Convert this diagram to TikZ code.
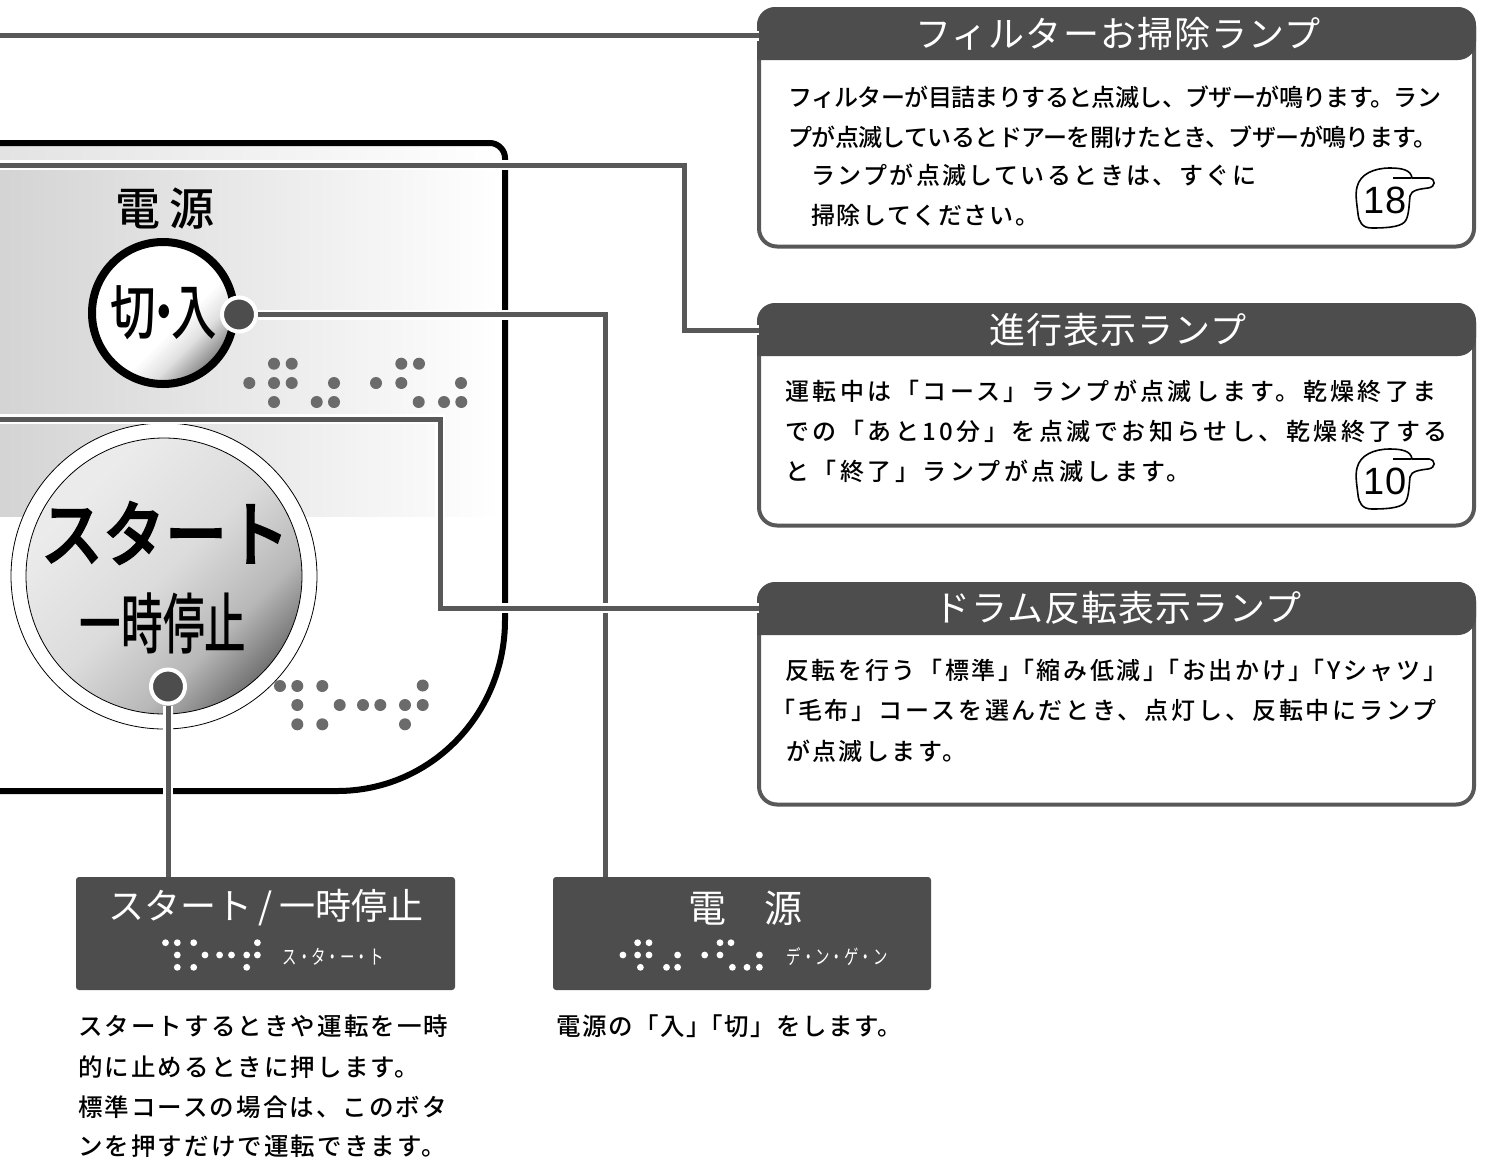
\documentclass[tikz,border=0pt]{standalone}
\usepackage{fontspec}
\usepackage{graphicx}
\setmainfont{Noto Sans CJK JP}
\newfontfamily\jpmed{Noto Sans CJK JP Medium}
\newfontfamily\jpfat[FakeBold=2.2]{Noto Sans CJK JP Medium}
\newfontfamily\latinf{Liberation Sans}
\definecolor{linec}{HTML}{585858}
\definecolor{boxc}{HTML}{4D4D4D}
\definecolor{brl}{HTML}{6B6B6B}
\pgfdeclareverticalshading{btnpower}{100bp}{color(0bp)=(black!85);color(15bp)=(black!80);color(26bp)=(black!50);color(36bp)=(black!12);color(44bp)=(white);color(100bp)=(white)}
\pgfdeclareverticalshading{btnstart}{100bp}{color(0bp)=(black!85);color(15bp)=(black!80);color(25bp)=(black!55);color(35bp)=(black!28);color(50bp)=(black!14);color(70bp)=(black!8);color(100bp)=(black!6)}
\newcommand\Ln[6]{\node[anchor=west,inner sep=0pt] (#1) at (#2,#3) {\fontsize{#4}{#4}\selectfont\jpmed\addfontfeature{LetterSpace=#5}#6};}
\newcommand\Hand[2]{%
  \draw[line width=1.6pt,fill=white] (1412,178) -- (1429,178) .. controls (1436,179) and (1436,187) .. (1428,188)
    .. controls (1420,189) and (1411,190) .. (1410,196) .. controls (1409,205) and (1409,214) .. (1406,220)
    .. controls (1403,226) and (1392,228) .. (1372,228) .. controls (1362,228) and (1359,222) .. (1358,214)
    .. controls (1357,205) and (1355,195) .. (1357,187) .. controls (1360,174) and (1374,168) .. (1390,168)
    .. controls (1402,168) and (1411,170) .. (1412,178) -- cycle;
  \node[inner sep=0pt] (#1) at (1385,200) {\latinf\fontsize{38}{38}\selectfont #2};
  \draw[line width=2.5pt] (1393,178) -- (1411,178);}
\tikzset{
 halo/.style={draw=white,double=linec,line width=2.5pt,double distance=5pt},
 title/.style={inner sep=0pt,text=white,minimum width=717pt,minimum height=50pt},
 pin/.style={circle,fill=boxc,draw=white,line width=4pt,minimum size=34pt,inner sep=0pt},
 card/.style={fill=white,draw=linec,line width=4pt,rounded corners=18pt},
 head/.style={fill=boxc},
 label/.style={fill=boxc,rounded corners=3pt}
}
\begin{document}
\begin{tikzpicture}[x=1pt,y=-1pt]
\useasboundingbox (0,0) rectangle (1487,1160);
% panel gradient
\shade[left color=black!17,right color=white] (0,150) rectangle (500,516);
\shade[left color=black!11,right color=white] (0,146) rectangle (500,160);
% panel outline
\draw[line width=6pt] (0,143) -- (490,143) .. controls (498,143) and (505,150) .. (505,158)
  -- (505,620) .. controls (505,714) and (431,791) .. (337,791) -- (0,791);
% power button
\fill[white] (163,313) circle[radius=74pt];
\shade[shading=btnpower,shading angle=45] (163,313) circle[radius=74pt];
\draw[line width=8pt] (163,313) circle[radius=71pt];
\node[inner sep=0pt] (pwrtitle) at (165,209) {\fontsize{45}{45}\selectfont\jpmed 電\kern9pt 源};
\node[inner sep=0pt] (pwrtext) at (164,313) {\fontsize{60}{60}\selectfont\jpmed\scalebox{.76}[1]{切\kern-.33em・\kern-.33em入}};
% start button
\fill[white,draw=black,line width=.8pt] (164,576) circle[radius=153pt];
\shade[shading=btnstart,shading angle=45,draw=black,line width=.8pt] (164,576) circle[radius=138pt];
\node[inner sep=0pt] (sttext) at (165,533) {\fontsize{64}{64}\selectfont\jpfat\scalebox{.97}[1.12]{スタート}};
\node[inner sep=0pt] (sttext2) at (163,623) {\fontsize{66}{66}\selectfont\jpmed\scalebox{.63}[1]{一時停止}};
% braille on panel
\foreach \x/\y in {274/363.7,291.7/363.7,401.3/363.7,419/363.7,
  249.3/383,274/383,291.7/383,334/383,376/383,401.3/383,461/383,
  274/402,316.7/402,334/402,418.7/402,444/402,461.3/402,
  280/686,297.3/686,322.3/686,422.7/685.5,
  297.3/705,339.7/705,363/705,380.3/705,405/705,422.7/705,
  297.3/724.3,322.3/724.3,405/724.3}
  \fill[brl] (\x,\y) circle[radius=6pt];
% cards
\draw[card] (759,9) rectangle (1474,246.5);
\draw[card] (759,305) rectangle (1474,525.5);
\draw[card] (759,584) rectangle (1474,804.5);
\fill[head,rounded corners=18pt] (757,60) -- (757,7) -- (1476,7) -- (1476,60) [sharp corners] -- cycle;
\fill[head,rounded corners=18pt] (757,356) -- (757,303) -- (1476,303) -- (1476,356) [sharp corners] -- cycle;
\fill[head,rounded corners=18pt] (757,635) -- (757,582) -- (1476,582) -- (1476,635) [sharp corners] -- cycle;
\node[title] (head1) at (1118,33.5) {\fontsize{36}{36}\selectfont\addfontfeature{LetterSpace=3}フィルターお掃除ランプ};
\node[title] (head2) at (1118,329.5) {\fontsize{36}{36}\selectfont\addfontfeature{LetterSpace=3}進行表示ランプ};
\node[title] (head3) at (1118,608) {\fontsize{36}{36}\selectfont\addfontfeature{LetterSpace=3}ドラム反転表示ランプ};
% bottom labels
\node[label,minimum width=379pt,minimum height=113pt,inner sep=0pt] (boxa) at (265.5,933.5) {};
\node[label,minimum width=378pt,minimum height=113pt,inner sep=0pt] (boxb) at (742,933.5) {};
\node[inner sep=0pt,text=white] (boxat) at (266,908) {\fontsize{36}{36}\selectfont スタート\kern6pt/\kern6pt 一時停止};
\node[inner sep=0pt,text=white] (boxbt) at (745,908) {\fontsize{38}{38}\selectfont 電　源};
\node[inner sep=0pt,text=white] (boxas) at (333,957) {\fontsize{20}{20}\selectfont\scalebox{.72}[1]{ス・タ・ー・ト}};
\node[inner sep=0pt,text=white] (boxbs) at (837,957) {\fontsize{20}{20}\selectfont\scalebox{.72}[1]{デ・ン・ゲ・ン}};
\foreach \x/\y in {165.5/942.7,177.3/942.7,193.7/942.7,257.4/942.7,
  177.3/955,205/955,219.6/955,231.5/955,246.7/955,257.4/955,
  177.3/967.3,193.7/967.3,246.7/967.3,
  637.6/942.7,649/942.7,720/942.7,731/942.7,
  622.9/955,637.6/955,649/955,677.6/955,704.7/955,720/955,759.4/955,
  640.4/967.3,666.5/967.3,677.6/967.3,732.4/967.3,747/967.3,759.4/967.3}
  \fill[white] (\x,\y) circle[radius=3.4pt];
% connectors
\coordinate (ltop) at (0,35.5);
\coordinate (lpanel) at (0,165);
\coordinate (lstart) at (0,419);
\coordinate (lpower) at (605,877);
\node[pin] (pwrdot) at (239,314.5) {};
\node[pin] (stdot) at (168,686.5) {};
\draw[halo] (pwrdot.east) -| (lpower);
\draw[halo] (stdot.south) -- (stdot.south |- boxa.north);
\draw[halo] (ltop) -- (head1.west |- ltop);
\draw[halo] (lpanel) -- (684,165) -- (684,330) -- (head2.west |- 0,330);
\draw[halo] (lstart) -- (440,419) -- (440,608) -- (head3.west);
% card texts
\Ln{a1}{788}{97}{24}{-2.5}{フィルターが目詰まりすると点滅し、ブザーが鳴ります。ラン}
\Ln{a2}{788}{137}{24}{-2.5}{プが点滅しているとドアーを開けたとき、ブザーが鳴ります。}
\Ln{a3}{811}{175.5}{24}{10}{ランプが点滅しているときは、すぐに}
\Ln{a4}{811}{215.5}{24}{7}{掃除してください。}
\Hand{h18}{18}
\Ln{b1}{785}{391}{24}{14.5}{運転中は「コース」ランプが点滅します。乾燥終了ま}
\Ln{b2}{785}{431}{24}{14.5}{での「あと10分」を点滅でお知らせし、乾燥終了する}
\Ln{b3}{785}{471}{24}{14.5}{と「終了」ランプが点滅します。}
\begin{scope}[yshift=-281pt]
\Hand{h10}{10}
\end{scope}
\Ln{c1}{785}{670}{24}{11}{反転を行う「標準」\kern-.5em「縮み低減」\kern-.5em「お出かけ」\kern-.5em「Yシャツ」}
\Ln{c2}{771}{710}{24}{12}{「毛布」コースを選んだとき、点灯し、反転中にランプ}
\Ln{c3}{786}{751}{24}{10}{が点滅します。}
\Ln{d1}{78}{1026}{24.5}{8.5}{スタートするときや運転を一時}
\Ln{d2}{78}{1067}{24.5}{8.5}{的に止めるときに押します。}
\Ln{d3}{78}{1107}{24.5}{8.5}{標準コースの場合は、このボタ}
\Ln{d4}{78}{1146}{24.5}{8.5}{ンを押すだけで運転できます。}
\Ln{e1}{556}{1026}{24.5}{6}{電源の「入」\kern-.5em「切」をします。}
\end{tikzpicture}
\end{document}
